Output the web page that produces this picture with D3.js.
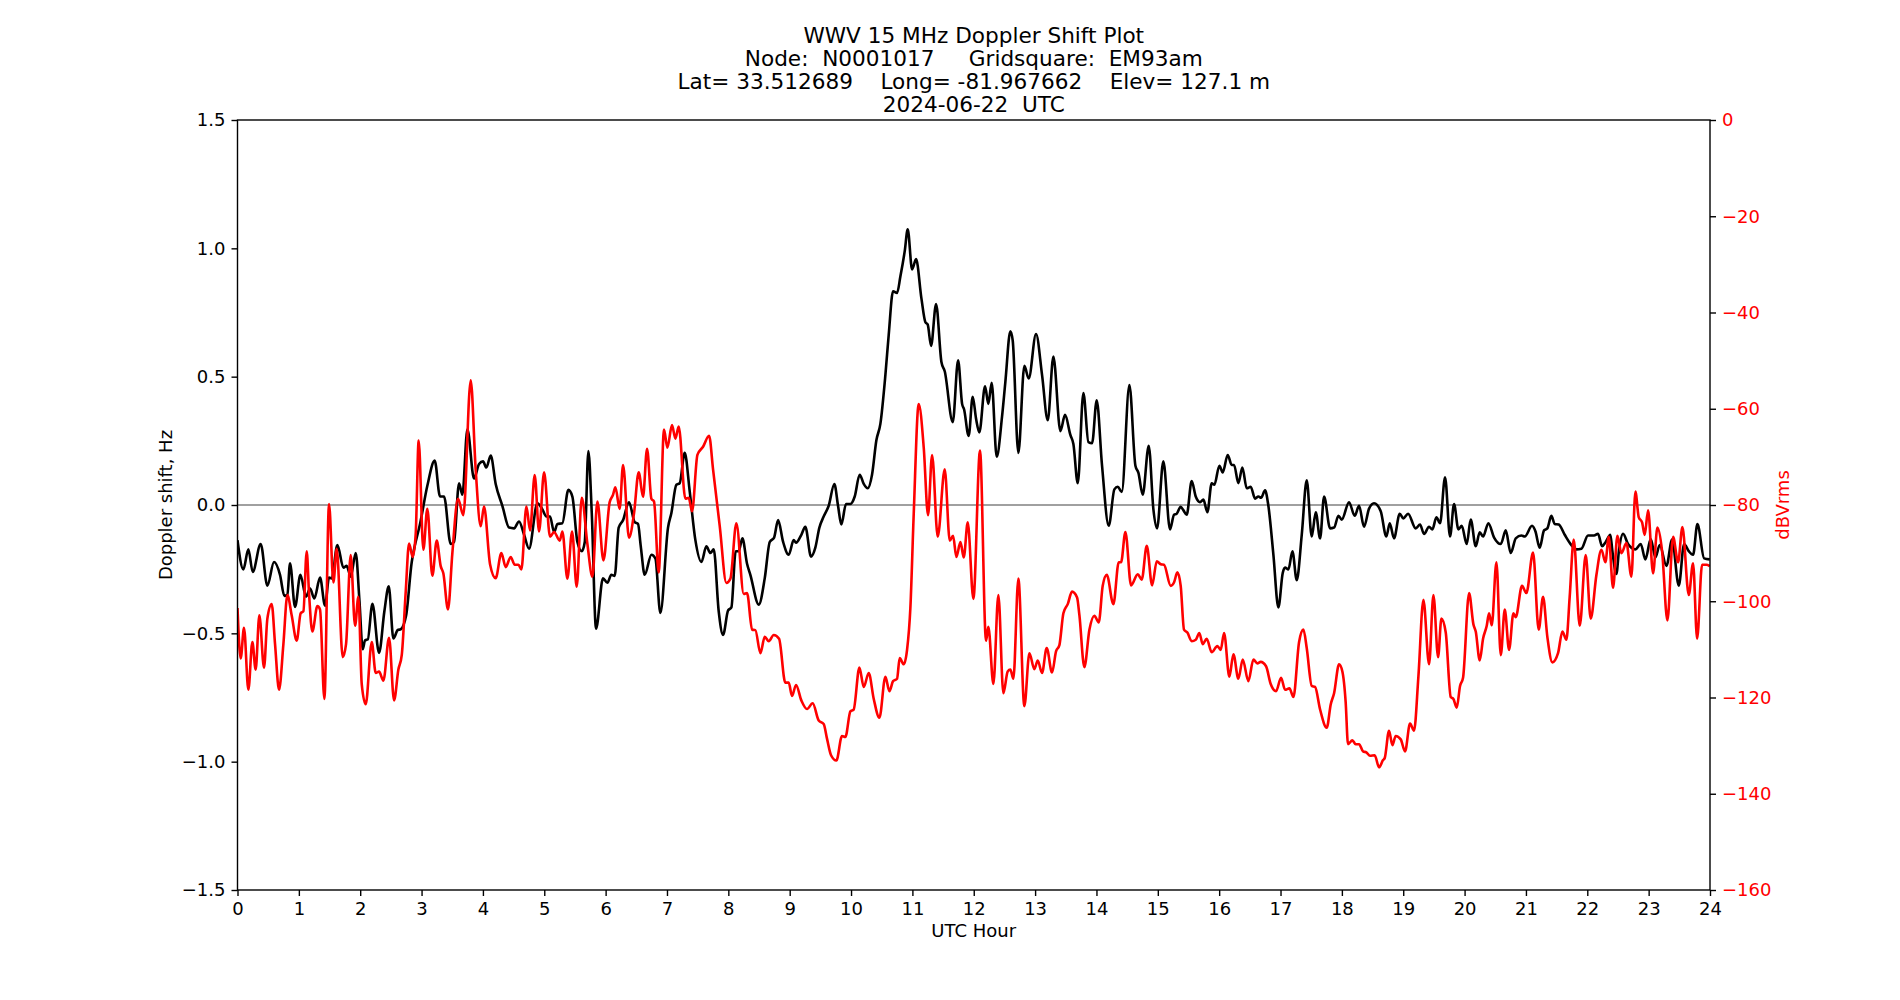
<!DOCTYPE html>
<html>
<head>
<meta charset="utf-8">
<script src="https://cdn.jsdelivr.net/npm/d3@7"></script>
<style>
  body { margin: 0; background: #fff; }
  text { font-family: "DejaVu Sans", sans-serif; }
</style>
</head>
<body>
<div id="chart"></div>
<script>
// Title lines
const titleLines = [
  "WWV 15 MHz Doppler Shift Plot",
  "Node:  N0001017     Gridsquare:  EM93am",
  "Lat= 33.512689    Long= -81.967662    Elev= 127.1 m",
  "2024-06-22  UTC"
];

// tick values
const hourTicks = d3.range(0, 25, 1);
const dopplerTicks = [-1.5, -1.0, -0.5, 0.0, 0.5, 1.0, 1.5];
const powerTicks = [0, -20, -40, -60, -80, -100, -120, -140, -160];

// Doppler shift (Hz) vs UTC hour
const dopplerShift = [
  [0.000,-0.137],[0.095,-0.251],[0.177,-0.173],[0.248,-0.261],[0.378,-0.152],[0.487,-0.314],[0.595,-0.222],[0.693,-0.272],
  [0.764,-0.354],[0.813,-0.350],[0.856,-0.227],[0.938,-0.397],[1.025,-0.272],[1.117,-0.357],[1.182,-0.326],[1.253,-0.364],
  [1.345,-0.283],[1.427,-0.392],[1.492,-0.283],[1.536,-0.286],[1.628,-0.156],[1.726,-0.244],[1.780,-0.237],[1.845,-0.279],
  [1.927,-0.187],[1.987,-0.371],[2.041,-0.562],[2.079,-0.527],[2.123,-0.524],[2.199,-0.385],[2.307,-0.576],[2.394,-0.414],
  [2.465,-0.317],[2.541,-0.520],[2.612,-0.487],[2.661,-0.484],[2.748,-0.431],[2.840,-0.222],
  [2.877,-0.173],[2.975,-0.074],[3.094,0.075],[3.214,0.173],[3.301,0.033],[3.366,0.033],[3.475,-0.152],[3.529,-0.144],
  [3.611,0.085],[3.665,0.040],[3.747,0.295],[3.855,0.103],[3.937,0.160],[4.002,0.170],[4.056,0.146],[4.127,0.193],
  [4.208,0.082],[4.317,-0.003],[4.426,-0.088],[4.507,-0.091],[4.589,-0.064],[4.671,-0.116],[4.752,-0.170],[4.888,0.007],
  [4.969,-0.017],[5.035,-0.045],[5.094,-0.045],[5.160,-0.106],[5.214,-0.074],[5.295,-0.071],[5.393,0.059],[5.458,0.033],
  [5.540,-0.144],[5.611,-0.180],[5.660,-0.144],[5.719,0.210],[5.774,-0.031],[5.844,-0.482],
  [5.957,-0.286],[6.028,-0.303],[6.093,-0.272],[6.148,-0.276],[6.213,-0.088],[6.284,-0.059],[6.381,0.011],[6.474,-0.067],
  [6.528,-0.074],[6.572,-0.159],[6.637,-0.272],[6.746,-0.194],[6.811,-0.208],[6.892,-0.421],[7.017,-0.088],[7.072,-0.031],
  [7.153,0.079],[7.207,0.085],[7.289,0.203],[7.370,0.054],[7.463,-0.137],[7.561,-0.222],[7.642,-0.161],[7.707,-0.187],
  [7.762,-0.173],[7.843,-0.414],[7.914,-0.506],[7.996,-0.411],[8.050,-0.399],[8.120,-0.180],[8.169,-0.180],[8.229,-0.130],
  [8.305,-0.229],[8.359,-0.272],[8.496,-0.388],[8.593,-0.286],[8.675,-0.144],[8.746,-0.127],[8.811,-0.059],[8.893,-0.144],
  [8.984,-0.194],[9.065,-0.137],[9.103,-0.147],[9.190,-0.116],[9.255,-0.085],[9.348,-0.201],[9.418,-0.166],[9.484,-0.088],
  [9.554,-0.045],[9.636,-0.003],[9.728,0.082],[9.788,-0.003],[9.842,-0.076],[9.918,0.004],[9.989,0.004],[10.060,0.033],
  [10.141,0.118],[10.207,0.082],[10.272,0.065],[10.342,0.118],[10.413,0.252],[10.478,0.316],[10.560,0.507],[10.614,0.663],
  [10.685,0.833],[10.750,0.826],[10.804,0.890],[10.875,0.989],[10.924,1.074],[10.995,0.918],[11.060,0.958],[11.147,0.805],
  [11.212,0.712],[11.250,0.703],[11.304,0.620],[11.386,0.783],[11.473,0.557],[11.527,0.521],[11.658,0.323],[11.745,0.564],
  [11.810,0.394],[11.842,0.373],
  [11.917,0.269],[11.983,0.422],[12.037,0.337],[12.091,0.283],[12.184,0.462],[12.238,0.394],[12.292,0.476],[12.374,0.188],
  [12.461,0.344],[12.515,0.479],[12.597,0.677],[12.635,0.641],[12.727,0.203],[12.825,0.542],[12.896,0.493],[13.015,0.666],
  [13.113,0.507],[13.206,0.330],[13.298,0.578],[13.412,0.288],[13.488,0.351],[13.575,0.273],[13.624,0.238],[13.695,0.085],
  [13.787,0.436],[13.869,0.245],[13.929,0.241],[14.004,0.408],[14.091,0.153],[14.200,-0.081],[14.292,0.061],[14.347,0.071],
  [14.412,0.051],[14.537,0.467],[14.635,0.153],[14.684,0.125],[14.754,0.040],[14.852,0.231],[14.928,-0.017],[14.988,-0.091],
  [15.090,0.170],[15.199,-0.095],[15.264,-0.038],[15.308,-0.034],[15.373,-0.007],[15.416,-0.020],[15.471,-0.038],[15.552,0.093],
  [15.618,0.033],[15.688,0.011],[15.743,0.021],[15.808,-0.028],[15.878,0.085],[15.922,0.079],[16.003,0.153],[16.058,0.127],
  [16.139,0.195],[16.204,0.156],[16.243,0.156],[16.313,0.085],[16.378,0.146],[16.449,0.065],[16.514,0.071],[16.585,0.025],
  [16.639,0.033],[16.683,0.028],[16.748,0.057],[16.802,-0.003],[16.884,-0.194],[16.965,-0.399],[17.036,-0.265],[17.074,-0.244],
  [17.129,-0.251],[17.194,-0.180],[17.264,-0.293],[17.346,-0.116],[17.427,0.096],[17.509,-0.123],[17.574,-0.028],[17.645,-0.130],
  [17.710,0.033],[17.808,-0.091],[17.873,-0.088],[17.944,-0.042],[17.998,-0.057],
  [18.117,0.011],[18.209,-0.042],[18.280,-0.003],[18.361,-0.085],[18.443,-0.014],[18.524,0.007],[18.633,-0.024],[18.725,-0.123],
  [18.780,-0.071],[18.850,-0.130],[18.943,-0.034],[19.002,-0.052],[19.079,-0.034],[19.203,-0.091],[19.274,-0.076],[19.339,-0.113],
  [19.421,-0.085],[19.475,-0.095],[19.541,-0.048],[19.600,-0.071],[19.682,0.108],[19.763,-0.123],[19.828,0.004],[19.899,-0.095],
  [19.954,-0.081],[20.035,-0.152],[20.100,-0.057],[20.182,-0.161],[20.247,-0.106],[20.301,-0.123],[20.388,-0.071],[20.481,-0.127],
  [20.590,-0.152],[20.671,-0.099],[20.752,-0.187],[20.834,-0.130],[20.926,-0.119],[20.981,-0.123],
  [21.099,-0.081],[21.154,-0.102],[21.224,-0.166],[21.295,-0.099],[21.349,-0.091],[21.414,-0.042],[21.469,-0.074],[21.534,-0.076],
  [21.632,-0.116],[21.741,-0.156],[21.822,-0.173],[21.904,-0.170],[22.012,-0.119],[22.110,-0.119],[22.175,-0.112],[22.241,-0.161],
  [22.300,-0.144],[22.376,-0.116],[22.409,-0.180],[22.474,-0.269],[22.518,-0.173],[22.583,-0.112],[22.664,-0.152],[22.784,-0.173],
  [22.871,-0.152],[22.947,-0.212],[23.034,-0.133],[23.110,-0.204],[23.181,-0.156],[23.290,-0.237],[23.382,-0.135],[23.491,-0.314],
  [23.578,-0.152],[23.654,-0.180],[23.724,-0.194],[23.795,-0.074],[23.904,-0.208],[23.996,-0.212]
];

// received power (dBVrms) vs UTC hour
const signalPower = [
  [0.000,-101.4],[0.052,-111.9],[0.106,-105.5],[0.177,-118.4],[0.242,-108.5],[0.296,-114.2],[0.356,-102.9],[0.432,-113.8],
  [0.487,-103.6],[0.557,-100.6],[0.612,-108.9],[0.677,-118.4],[0.748,-108.9],[0.813,-98.7],[0.883,-102.9],[0.965,-108.2],
  [1.030,-102.5],[1.074,-102.1],[1.128,-89.6],[1.166,-98.4],[1.220,-106.3],[1.302,-101.0],[1.345,-101.7],[1.416,-120.3],
  [1.492,-79.8],[1.563,-96.1],[1.617,-89.1],[1.715,-111.6],[1.769,-108.9],[1.845,-90.4],[1.916,-105.1],[1.970,-99.1],
  [2.025,-117.2],[2.090,-121.4],[2.188,-108.5],[2.253,-114.9],[2.307,-114.6],[2.378,-116.5],[2.470,-107.6],[2.552,-120.6],
  [2.622,-114.2],[2.677,-111.2],[2.742,-98.0],[2.796,-88.0],[2.856,-90.8],[2.905,-85.9],
  [2.953,-66.6],[3.029,-89.3],[3.094,-80.8],[3.176,-94.7],[3.247,-87.4],[3.312,-92.7],[3.355,-94.2],[3.431,-101.7],
  [3.502,-90.0],[3.594,-78.7],[3.681,-82.1],[3.801,-54.1],[3.882,-72.6],[3.964,-84.4],[4.018,-80.3],[4.116,-92.3],
  [4.208,-95.2],[4.301,-90.0],[4.371,-92.9],[4.453,-90.8],[4.518,-92.4],[4.578,-92.4],[4.627,-93.4],[4.709,-80.3],
  [4.768,-85.3],[4.844,-73.8],[4.915,-85.5],[4.997,-73.2],[5.094,-86.6],[5.160,-85.6],[5.252,-87.4],[5.295,-85.5],
  [5.377,-95.3],[5.453,-85.5],[5.529,-97.0],[5.611,-78.5],[5.703,-88.1],[5.785,-94.9],[5.866,-79.3],[5.964,-91.5],
  [6.066,-79.4],[6.120,-77.9],[6.159,-76.3],[6.229,-80.8],[6.284,-71.7],[6.381,-86.8],[6.463,-81.7],[6.539,-73.2],
  [6.610,-78.3],[6.675,-68.3],[6.746,-78.7],[6.789,-79.3],[6.865,-94.0],[6.952,-64.3],[7.006,-68.1],[7.082,-63.4],
  [7.137,-66.2],[7.191,-63.7],[7.300,-78.7],[7.354,-78.5],[7.409,-81.3],[7.496,-69.6],[7.588,-67.9],[7.686,-65.6],
  [7.751,-72.6],[7.860,-84.4],[7.968,-96.2],[8.034,-95.3],[8.131,-83.8],[8.251,-98.5],[8.305,-98.3],[8.387,-105.9],
  [8.441,-106.0],[8.523,-110.8],[8.593,-107.4],[8.658,-108.3],[8.740,-107.0],[8.827,-107.8],
  [8.929,-116.9],[8.984,-116.9],[9.038,-119.7],[9.103,-117.4],[9.190,-120.6],[9.283,-122.4],[9.375,-121.2],[9.473,-124.8],
  [9.554,-125.5],[9.609,-128.6],[9.674,-132.0],[9.761,-133.1],[9.853,-128.0],[9.908,-128.2],[9.989,-122.9],[10.043,-122.5],
  [10.136,-113.8],[10.207,-117.8],[10.288,-114.9],[10.370,-120.3],[10.462,-124.2],[10.560,-115.7],[10.625,-118.7],[10.685,-116.6],
  [10.750,-116.1],[10.793,-111.8],[10.859,-113.1],[10.913,-110.1],[10.967,-101.4],[11.022,-81.7],[11.103,-59.0],[11.185,-68.1],
  [11.255,-82.1],[11.321,-69.6],[11.413,-86.6],[11.527,-72.6],[11.609,-87.4],[11.663,-86.4],[11.717,-90.8],[11.783,-87.7],
  [11.837,-90.9],[11.902,-83.6],
  [11.994,-99.5],[12.102,-68.7],[12.200,-108.2],[12.238,-105.3],[12.320,-117.2],[12.401,-98.7],[12.483,-119.1],[12.553,-114.6],
  [12.597,-114.2],[12.646,-116.1],[12.727,-95.3],[12.825,-121.8],[12.907,-110.8],[12.988,-114.1],[13.043,-112.3],[13.113,-114.9],
  [13.189,-109.7],[13.276,-114.8],[13.341,-110.4],[13.396,-109.1],[13.461,-102.5],[13.532,-100.6],[13.602,-98.0],[13.684,-99.2],
  [13.722,-102.9],[13.803,-113.7],[13.885,-105.9],[13.966,-103.0],[14.037,-104.4],[14.102,-96.8],[14.168,-94.5],[14.276,-100.6],
  [14.363,-91.9],[14.401,-91.9],[14.472,-85.6],[14.564,-96.7],[14.673,-94.4],[14.738,-95.5],[14.820,-88.5],[14.907,-96.7],
  [14.983,-91.7],
  [15.047,-92.3],[15.101,-92.4],[15.210,-96.8],[15.264,-96.1],[15.319,-94.0],[15.373,-96.8],[15.427,-105.9],[15.482,-106.5],
  [15.552,-108.3],[15.618,-108.0],[15.677,-106.6],[15.732,-108.9],[15.797,-107.8],[15.878,-110.6],[15.971,-109.3],[16.025,-110.1],
  [16.080,-106.6],[16.166,-115.7],[16.232,-111.0],[16.313,-116.1],[16.384,-112.1],[16.476,-116.6],[16.558,-112.1],[16.623,-112.9],
  [16.677,-112.6],[16.764,-113.5],[16.840,-117.2],[16.927,-118.7],[17.009,-115.9],[17.074,-118.4],[17.145,-118.1],[17.210,-119.9],
  [17.302,-108.5],[17.373,-105.9],[17.427,-109.7],[17.509,-117.6],[17.563,-117.8],[17.645,-122.5],[17.753,-126.3],[17.819,-121.4],
  [17.873,-119.1],
  [17.954,-113.1],[18.008,-114.6],[18.062,-121.0],[18.100,-129.7],[18.171,-128.9],[18.225,-129.7],[18.280,-129.7],[18.345,-131.2],
  [18.399,-131.4],[18.459,-132.1],[18.535,-132.0],[18.606,-134.5],[18.671,-133.0],[18.698,-132.6],[18.769,-126.9],[18.823,-129.9],
  [18.877,-128.0],[18.959,-128.7],[19.030,-131.2],[19.111,-125.4],[19.176,-126.9],[19.247,-115.7],[19.329,-99.7],[19.421,-113.1],
  [19.492,-98.7],[19.568,-111.6],[19.622,-103.6],[19.693,-106.5],[19.774,-119.9],[19.818,-120.3],[19.872,-122.1],[19.926,-117.6],
  [19.975,-115.9],[20.073,-98.3],[20.144,-104.8],[20.182,-106.3],[20.247,-112.3],[20.301,-107.8],[20.361,-105.1],[20.399,-102.5],
  [20.443,-105.0],[20.519,-91.9],[20.590,-111.2],[20.655,-101.7],[20.725,-110.1],[20.796,-102.5],[20.834,-103.3],
  [20.936,-96.8],[21.007,-98.3],[21.116,-89.9],[21.208,-105.9],[21.279,-99.1],[21.349,-107.4],[21.431,-112.7],[21.523,-110.8],
  [21.594,-106.3],[21.659,-108.0],[21.713,-99.1],[21.779,-87.2],[21.877,-105.1],[21.974,-90.4],[22.056,-103.6],[22.148,-94.6],
  [22.230,-89.3],[22.295,-91.9],[22.349,-86.6],[22.420,-97.2],[22.491,-86.4],[22.556,-90.0],[22.638,-87.9],[22.719,-94.9],
  [22.784,-77.2],[22.838,-82.5],[22.893,-83.6],[22.936,-86.2],[22.991,-81.1],[23.072,-94.2],[23.143,-84.7],[23.219,-89.6],
  [23.306,-104.0],[23.398,-86.6],[23.480,-91.9],[23.550,-84.6],[23.654,-98.7],[23.724,-92.1],[23.790,-107.8],[23.871,-92.4],
  [23.942,-92.4],[23.996,-92.7]
];

const W = 1900, H = 1000;
const margin = { top: 120, right: 190, bottom: 110, left: 237.5 };
const width = W - margin.left - margin.right;
const height = H - margin.top - margin.bottom;

const svg = d3.select("#chart")
  .append("svg")
  .attr("width", W)
  .attr("height", H)
  .style("background", "#fff");

const g = svg.append("g")
  .attr("transform", `translate(${margin.left},${margin.top})`);

// scales
const x = d3.scaleLinear().domain([0, 24]).range([0, width]);
const yL = d3.scaleLinear().domain([-1.5, 1.5]).range([height, 0]);
const yR = d3.scaleLinear().domain([-160, 0]).range([height, 0]);

g.append("clipPath").attr("id", "plot-clip")
  .append("rect").attr("width", width).attr("height", height);

// zero line
g.append("line")
  .attr("x1", 0).attr("x2", width)
  .attr("y1", yL(0)).attr("y2", yL(0))
  .attr("stroke", "#808080")
  .attr("stroke-width", 1.6);

const line = d3.line().curve(d3.curveMonotoneX);

// doppler trace (left axis)
g.append("path")
  .datum(dopplerShift)
  .attr("clip-path", "url(#plot-clip)")
  .attr("fill", "none")
  .attr("stroke", "#000")
  .attr("stroke-width", 2.6)
  .attr("stroke-linejoin", "round")
  .attr("d", line.x(d => x(d[0])).y(d => yL(d[1])));

// power trace (right axis) - drawn on top like the twinx axes
g.append("path")
  .datum(signalPower)
  .attr("clip-path", "url(#plot-clip)")
  .attr("fill", "none")
  .attr("stroke", "#ff0000")
  .attr("stroke-width", 2.6)
  .attr("stroke-linejoin", "round")
  .attr("d", line.x(d => x(d[0])).y(d => yR(d[1])));

// axes
const xAxis = g.append("g")
  .attr("transform", `translate(0,${height})`)
  .call(d3.axisBottom(x).tickValues(hourTicks).tickFormat(d3.format("d"))
    .tickSize(6).tickPadding(6));

const leftAxis = g.append("g")
  .call(d3.axisLeft(yL).tickValues(dopplerTicks).tickFormat(d3.format(".1f"))
    .tickSize(6).tickPadding(6));

const rightAxis = g.append("g")
  .attr("transform", `translate(${width},0)`)
  .call(d3.axisRight(yR).tickValues(powerTicks).tickFormat(d3.format("d"))
    .tickSize(6).tickPadding(6));

[xAxis, leftAxis, rightAxis].forEach(a => {
  a.select(".domain").remove();
  a.selectAll("line").attr("stroke", "#000").attr("stroke-width", 1.4);
  a.selectAll("text")
    .style("font-size", "18px")
    .style("font-family", "'DejaVu Sans', sans-serif")
    .attr("fill", "#000");
});
rightAxis.selectAll("text").attr("fill", "#ff0000");

// frame
g.append("rect")
  .attr("width", width)
  .attr("height", height)
  .attr("fill", "none")
  .attr("stroke", "#000")
  .attr("stroke-width", 1.4);

// axis labels
svg.append("text")
  .attr("x", margin.left + width / 2)
  .attr("y", 937)
  .attr("text-anchor", "middle")
  .style("font-size", "18px")
  .text("UTC Hour");

svg.append("text")
  .attr("transform", `translate(172,${margin.top + height / 2}) rotate(-90)`)
  .attr("text-anchor", "middle")
  .style("font-size", "18px")
  .text("Doppler shift, Hz");

svg.append("text")
  .attr("transform", `translate(1789,${margin.top + height / 2}) rotate(-90)`)
  .attr("text-anchor", "middle")
  .attr("fill", "#ff0000")
  .style("font-size", "18px")
  .text("dBVrms");

// title block
svg.append("text")
  .attr("x", margin.left + width / 2)
  .attr("y", 42.5)
  .attr("text-anchor", "middle")
  .style("font-size", "21.6px")
  .selectAll("tspan")
  .data(titleLines)
  .enter().append("tspan")
  .attr("x", margin.left + width / 2)
  .attr("dy", (d, i) => i === 0 ? 0 : 23)
  .style("white-space", "pre")
  .text(d => d);
svg.selectAll("text").attr("xml:space", "preserve");
</script>
</body>
</html>
